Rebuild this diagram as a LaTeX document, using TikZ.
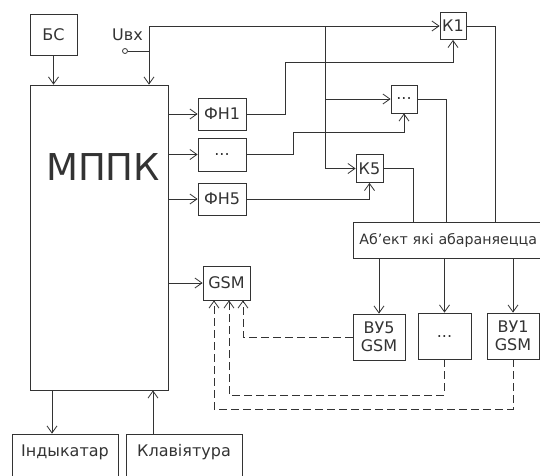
\documentclass[tikz,border=0pt]{standalone}
\usepackage{fontspec}
\setmainfont{DejaVu Sans}
\usetikzlibrary{arrows.meta}
\begin{document}
\begin{tikzpicture}[x=1pt,y=-1pt, line width=0.8pt, color=black!80,
        every node/.style={font=\fontsize{16}{18}\selectfont},
        blk/.style={draw, inner sep=0pt},
        arr/.style={-{Straight Barb[length=7pt,width=10pt]}},
        dsh/.style={dash pattern=on 8pt off 4pt}]
    \useasboundingbox (0,0) rectangle (540,475);
    \clip (0,0) rectangle (540,475);
    % blocks
    \node[blk, minimum width=47, minimum height=41] (bs) at (53.5,34.5) {БС};
    \node[blk, minimum width=138, minimum height=305,
          label={[xshift=4pt, yshift=70pt, font=\fontsize{37}{40}\selectfont]center:МППК}] (mppk) at (99,237.5) {};
    \node (uin) at (127.5,35) {Uвх};
    \node[draw, circle, minimum size=5, inner sep=0pt] (term) at (125,51) {};
    \node[blk, minimum width=48, minimum height=32] (fn1) at (222,114) {ФН1};
    \node[blk, minimum width=48, minimum height=33] (fnd) at (222,154.5) {...};
    \node[blk, minimum width=48, minimum height=32] (fn5) at (222,199) {ФН5};
    \node[blk, minimum width=47, minimum height=34] (gsm) at (226.5,283) {GSM};
    \node[blk, minimum width=26, minimum height=27] (k1) at (453,26) {К1};
    \node[blk, minimum width=26, minimum height=28] (kd) at (404,99) {...};
    \node[blk, minimum width=27, minimum height=28] (k5) at (369.5,168.5) {К5};
    \node[blk, anchor=west, minimum height=36, text width=230pt, inner xsep=6pt, align=left,
          font=\fontsize{14.2}{18}\selectfont] (obj) at (353,240) {Аб’ект які абараняецца};
    \node[blk, minimum width=52, minimum height=46, align=center] (vu5) at (379,337) {ВУ5\\GSM};
    \node[blk, minimum width=53, minimum height=46] (vud) at (444.5,336) {...};
    \node[blk, minimum width=52, minimum height=46, align=center] (vu1) at (513,336) {ВУ1\\GSM};
    \node[blk, minimum width=106, minimum height=56, label={[yshift=10pt]center:Індыкатар}] (ind) at (65,462) {};
    \node[blk, minimum width=116, minimum height=56, label={[yshift=10pt]center:Клавіятура}] (kbd) at (184,462) {};
    % input and bus
    \coordinate (top) at (149,26);
    \coordinate (bus) at (325,26);
    \draw[arr] (bs) -- (bs |- mppk.north);
    \draw (term) -- (149,51);
    \draw[arr] (top) -- (top |- mppk.north);
    \draw[arr] (top) -- (k1);
    \draw[arr] (bus) |- (k5);
    \draw[arr] (bus |- kd) -- (kd);
    % formers
    \draw[arr] (mppk.east |- fn1) -- (fn1);
    \draw[arr] (mppk.east |- fnd) -- (fnd);
    \draw[arr] (mppk.east |- fn5) -- (fn5);
    \draw[arr] (mppk.east |- gsm) -- (gsm);
    \draw[arr] (fn1.east) -| (285,62) -| (k1.south);
    \draw[arr] (fnd.east) -| (293,132) -| (kd.south);
    \draw[arr] (fn5.east) -| (k5.south);
    % keys to object
    \draw (k1.east) -| (495,0 |- obj.north);
    \draw (kd.east) -| (446,0 |- obj.north);
    \draw (k5.east) -| (413,0 |- obj.north);
    \draw[arr] (obj.south -| vu5) -- (vu5);
    \draw[arr] (obj.south -| vud) -- (vud);
    \draw[arr] (obj.south -| vu1) -- (vu1);
    % radio links
    \draw[dsh, arr] (vu5.west) -| ([xshift=16.5pt]gsm.south);
    \draw[dsh, arr] (vud.south) |- (229,395) -- ([xshift=2.5pt]gsm.south);
    \draw[dsh, arr] (vu1.south) |- (214,409) -- ([xshift=-12.5pt]gsm.south);
    % panel
    \draw[arr] (52,0 |- mppk.south) -- (52,0 |- ind.north);
    \draw[arr] (153,0 |- kbd.north) -- (153,0 |- mppk.south);
\end{tikzpicture}
\end{document}
